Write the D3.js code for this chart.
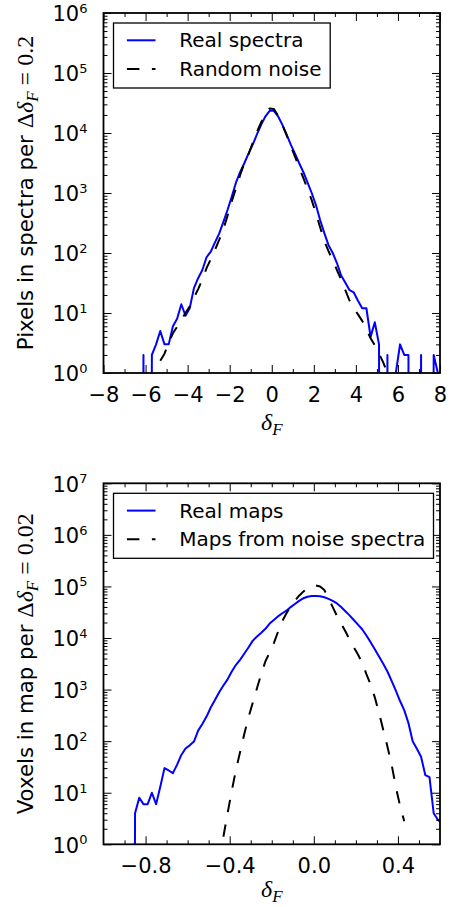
<!DOCTYPE html>
<html>
<head>
<meta charset="utf-8">
<script src="https://cdn.jsdelivr.net/npm/d3@7"></script>
<style>
  html, body { margin: 0; padding: 0; background: #fff; }
  svg { display: block; }
</style>
</head>
<body>
<svg id="chart" width="451" height="907"></svg>
<script>
// ---- top panel: pixel histogram of the spectra (bin centres, counts per 0.2)
const spectraDelta = [-6.3,-6.1,-5.9,-5.7,-5.5,-5.3,-5.1,-4.9,-4.7,-4.5,-4.3,-4.1,-3.9,-3.7,-3.5,-3.3,-3.1,-2.9,-2.7,-2.5,-2.3,-2.1,-1.9,-1.7,-1.5,-1.3,-1.1,-0.9,-0.7,-0.5,-0.3,-0.1,0.1,0.3,0.5,0.7,0.9,1.1,1.3,1.5,1.7,1.9,2.1,2.3,2.5,2.7,2.9,3.1,3.3,3.5,3.7,3.9,4.1,4.3,4.5,4.7,4.9,5.1,5.3,5.5,5.7,5.9,6.1,6.3,6.5,6.7,6.9,7.1,7.3,7.5,7.7,7.9];
const spectraReal = [0,2,0,2,3,5,3,3,6,8,14,9,12,26,38,52,85,105,150,210,330,525,870,1500,2240,3160,4570,6460,9550,13800,19000,23400,23400,19000,13800,9550,6460,4570,3160,2240,1510,1000,630,355,214,135,100,68,42,32,24,22,16,12,12,4,7,3,0,2,0,1,3,2,2,0,0,2,0,0,2,1];
const noiseDelta = [-5.3,-5.1,-4.9,-4.7,-4.5,-4.3,-4.1,-3.9,-3.7,-3.5,-3.3,-3.1,-2.9,-2.7,-2.5,-2.3,-2.1,-1.9,-1.7,-1.5,-1.3,-1.1,-0.9,-0.7,-0.5,-0.3,-0.1,0.1,0.3,0.5,0.7,0.9,1.1,1.3,1.5,1.7,1.9,2.1,2.3,2.5,2.7,2.9,3.1,3.3,3.5,3.7,3.9,4.1,4.3,4.5,4.7,4.9,5.1,5.3,5.5];
const noiseCounts = [1.6,2.1,3.2,4.6,5.9,7.6,10,13,18,25,36,56,79,112,165,250,420,725,1200,2000,3160,4470,6920,10500,15100,20900,25700,25100,19500,13800,9330,6170,4070,2690,1780,1170,760,457,269,158,107,76,52,36,24,16,12,9.5,7.4,5.4,3.8,2.9,2.1,1.5,1.0];

// ---- bottom panel: voxel histogram of the maps (counts per 0.02)
const mapDelta = [-0.87,-0.85,-0.83,-0.81,-0.79,-0.77,-0.75,-0.73,-0.71,-0.69,-0.67,-0.65,-0.63,-0.61,-0.59,-0.57,-0.55,-0.53,-0.51,-0.49,-0.47,-0.45,-0.43,-0.41,-0.39,-0.37,-0.35,-0.33,-0.31,-0.29,-0.27,-0.25,-0.23,-0.21,-0.19,-0.17,-0.15,-0.13,-0.11,-0.09,-0.07,-0.05,-0.03,-0.01,0.01,0.03,0.05,0.07,0.09,0.11,0.13,0.15,0.17,0.19,0.21,0.23,0.25,0.27,0.29,0.31,0.33,0.35,0.37,0.39,0.41,0.43,0.45,0.47,0.49,0.51,0.53,0.55,0.57,0.59,0.61];
const mapReal = [0,4,8,6,6,10,6,13,30,27,24,35,54,72,83,98,160,215,300,450,630,890,1200,1580,2240,3020,3800,5010,6610,8910,10700,12600,15100,19100,22400,26300,30200,33900,39800,45700,52500,58900,63100,65300,65500,64600,61700,57500,52500,46800,39800,33100,27500,22400,18200,14800,11200,8320,6030,4370,3160,2240,1480,955,600,400,224,100,71,50,22,20,4,3,2.5];
const noiseMapDelta = [-0.43,-0.41,-0.39,-0.37,-0.35,-0.33,-0.31,-0.29,-0.27,-0.25,-0.23,-0.21,-0.19,-0.17,-0.15,-0.13,-0.11,-0.09,-0.07,-0.05,-0.03,-0.01,0.01,0.03,0.05,0.07,0.09,0.11,0.13,0.15,0.17,0.19,0.21,0.23,0.25,0.27,0.29,0.31,0.33,0.35,0.37,0.39,0.41,0.43];
const noiseMapCounts = [1.4,4,11,28,63,141,295,562,1070,2000,3550,5250,7940,13200,21400,30200,40700,52500,66100,79400,91200,100000,104700,100000,85100,58900,39800,26900,19100,13500,9330,6610,4790,3310,2000,1260,708,355,166,79,35,13,5.6,2.8];

// ---- ticks and labels
const spectraXTicks = [-8, -6, -4, -2, 0, 2, 4, 6, 8];
const spectraXMinor = [-7, -5, -3, -1, 1, 3, 5, 7];
const spectraYExponents = [0, 1, 2, 3, 4, 5, 6];
const mapXTicks = [-0.8, -0.4, 0.0, 0.4];
const mapXMinor = [-0.9, -0.7, -0.6, -0.5, -0.3, -0.2, -0.1, 0.1, 0.2, 0.3, 0.5];
const mapYExponents = [0, 1, 2, 3, 4, 5, 6, 7];
const spectraLegend = ["Real spectra", "Random noise"];
const mapLegend = ["Real maps", "Maps from noise spectra"];

const SANS = "'DejaVu Sans', sans-serif";
const SERIF = "'Liberation Serif', 'DejaVu Serif', serif";
const TICK_SIZE = 21;
const LEGEND_SIZE = 20;
const LABEL_SIZE = 21.3;
const MATH_SIZE = 24;
const DASH = "12.5,12.5";

const svg = d3.select("#chart");

drawPanel(svg, {
  id: "spectra",
  top: 13, bottom: 373, left: 103.5, right: 440,
  xDomain: [-8, 8], yDomain: [1, 1e6],
  xTicks: spectraXTicks, xMinor: spectraXMinor, xFormat: d3.format("d"),
  yExponents: spectraYExponents,
  series: [
    { x: spectraDelta, y: spectraReal, color: "#0000ff", dash: null },
    { x: noiseDelta, y: noiseCounts, color: "#000000", dash: DASH },
  ],
  legendLabels: spectraLegend, legendWidth: 216.7,
  yLabelText: "Pixels in spectra per ", yLabelValue: "0.2",
  xLabelBaseline: 430,
});

drawPanel(svg, {
  id: "maps",
  top: 483.3, bottom: 844.3, left: 103.5, right: 440,
  xDomain: [-1.0, 0.6], yDomain: [1, 1e7],
  xTicks: mapXTicks, xMinor: mapXMinor, xFormat: d3.format(".1f"),
  yExponents: mapYExponents,
  series: [
    { x: mapDelta, y: mapReal, color: "#0000ff", dash: null },
    { x: noiseMapDelta, y: noiseMapCounts, color: "#000000", dash: DASH },
  ],
  legendLabels: mapLegend, legendWidth: 320,
  yLabelText: "Voxels in map per ", yLabelValue: "0.02",
  xLabelBaseline: 897,
});

function drawPanel(svg, cfg) {
  const { top, bottom, left, right } = cfg;
  const x = d3.scaleLinear().domain(cfg.xDomain).range([left, right]);
  const y = d3.scaleLog().domain(cfg.yDomain).range([bottom, top]);
  const g = svg.append("g");

  g.append("clipPath")
    .attr("id", `clip-${cfg.id}`)
    .append("rect")
    .attr("x", left).attr("y", top)
    .attr("width", right - left).attr("height", bottom - top);

  // lines (zero bins are pushed far below the axis, like matplotlib's clipping)
  const line = d3.line()
    .x((d) => x(d.x))
    .y((d) => y(d.y > 0 ? d.y : 1e-30));

  cfg.series.forEach((s) => {
    const points = s.x.map((v, i) => ({ x: v, y: s.y[i] }));
    g.append("path")
      .datum(points)
      .attr("clip-path", `url(#clip-${cfg.id})`)
      .attr("fill", "none")
      .attr("stroke", s.color)
      .attr("stroke-width", 2)
      .attr("stroke-linejoin", "round")
      .attr("stroke-dasharray", s.dash)
      .attr("d", line);
  });

  // ticks, all pointing inward on the four sides
  const majorY = cfg.yExponents.map((e) => Math.pow(10, e));
  const minorY = y.ticks().filter((v) => !majorY.some((m) => Math.abs(m - v) / m < 1e-9));

  const axes = [
    { make: () => d3.axisBottom(x), at: `translate(0,${bottom})`, major: cfg.xTicks, minor: cfg.xMinor, labels: true },
    { make: () => d3.axisTop(x), at: `translate(0,${top})`, major: cfg.xTicks, minor: cfg.xMinor, labels: false },
    { make: () => d3.axisLeft(y), at: `translate(${left},0)`, major: majorY, minor: minorY, labels: true, log: true },
    { make: () => d3.axisRight(y), at: `translate(${right},0)`, major: majorY, minor: minorY, labels: false },
  ];

  axes.forEach((a) => {
    const minorAxis = a.make().tickValues(a.minor).tickSize(-4).tickFormat("");
    g.append("g").attr("transform", a.at).call(minorAxis).call(styleAxis);

    const majorAxis = a.make().tickValues(a.major).tickSize(-8);
    if (!a.labels) {
      majorAxis.tickFormat("");
    } else if (a.log) {
      majorAxis.tickFormat(() => "10").tickPadding(16);
    } else {
      majorAxis.tickFormat(cfg.xFormat).tickPadding(14);
    }
    const ag = g.append("g").attr("transform", a.at).call(majorAxis).call(styleAxis);
    ag.selectAll("text")
      .attr("font-family", SANS)
      .attr("font-size", TICK_SIZE)
      .attr("fill", "#000");
    if (a.labels && a.log) {
      ag.selectAll("text")
        .attr("dy", "0.38em")
        .append("tspan")
        .attr("dy", -8.5)
        .attr("font-size", 13)
        .text((d) => Math.round(Math.log10(d)));
    }
  });

  // frame
  g.append("rect")
    .attr("x", left).attr("y", top)
    .attr("width", right - left).attr("height", bottom - top)
    .attr("fill", "none")
    .attr("stroke", "#000")
    .attr("stroke-width", 1.8);

  // legend
  const lx = left + 10;
  const ly = top + 10;
  const legend = g.append("g");
  legend.append("rect")
    .attr("x", lx).attr("y", ly)
    .attr("width", cfg.legendWidth).attr("height", 65)
    .attr("fill", "#fff")
    .attr("stroke", "#000")
    .attr("stroke-width", 1.3);
  cfg.legendLabels.forEach((label, i) => {
    const s = cfg.series[i];
    const rowY = ly + 17.3 + i * 28.7;
    legend.append("line")
      .attr("x1", lx + 13.4).attr("x2", lx + 42)
      .attr("y1", rowY).attr("y2", rowY)
      .attr("stroke", s.color)
      .attr("stroke-width", 2)
      .attr("stroke-dasharray", s.dash);
    legend.append("text")
      .attr("x", lx + 65.7)
      .attr("y", rowY + 7)
      .attr("font-family", SANS)
      .attr("font-size", LEGEND_SIZE)
      .text(label);
  });

  // y label: "... per Δδ_F = value"
  const yl = g.append("text")
    .attr("transform", `translate(33,${(top + bottom) / 2}) rotate(-90)`)
    .attr("text-anchor", "middle")
    .attr("font-size", LABEL_SIZE);
  yl.append("tspan").attr("font-family", SANS).text(cfg.yLabelText);
  appendDeltaF(yl, true);
  yl.append("tspan").attr("font-family", SERIF).attr("font-size", MATH_SIZE).attr("dy", -5)
    .text(" = " + cfg.yLabelValue);

  // x label: δ_F
  const xl = g.append("text")
    .attr("x", (left + right) / 2)
    .attr("y", cfg.xLabelBaseline)
    .attr("text-anchor", "middle")
    .attr("font-size", MATH_SIZE);
  appendDeltaF(xl, false);
}

function appendDeltaF(text, withDelta) {
  if (withDelta) {
    text.append("tspan").attr("font-family", SERIF).attr("font-size", MATH_SIZE).text("\u0394");
  }
  text.append("tspan").attr("font-family", SERIF).attr("font-style", "italic").attr("font-size", MATH_SIZE).text("\u03b4");
  text.append("tspan").attr("font-family", SERIF).attr("font-style", "italic").attr("font-size", 17).attr("dy", 5).text("F");
}

function styleAxis(sel) {
  sel.select(".domain").remove();
  sel.selectAll(".tick line").attr("stroke", "#000").attr("stroke-width", 1);
}
</script>
</body>
</html>
